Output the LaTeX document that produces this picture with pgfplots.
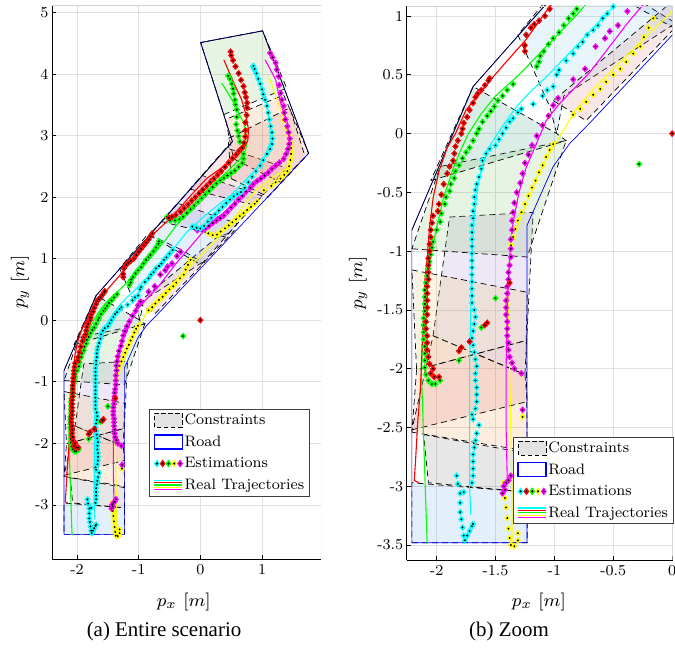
\documentclass[border=0pt]{standalone}
\usepackage{fontspec}
\newfontfamily\capfont{Liberation Serif}
\usepackage{graphicx}
\usepackage{pgfplots}
\usepackage{pgfplotstable}
\pgfplotsset{compat=1.18}

\definecolor{mred}{RGB}{255,0,0}
\definecolor{mgreen}{RGB}{0,255,0}
\definecolor{mcyan}{RGB}{0,255,255}
\definecolor{mmag}{RGB}{255,0,255}
\definecolor{myel}{RGB}{255,255,0}
\definecolor{mblue}{RGB}{0,0,255}

\definecolor{cblue}{RGB}{90,160,225}
\definecolor{clblue}{RGB}{120,200,240}
\definecolor{cgray}{RGB}{110,110,110}
\definecolor{corange}{RGB}{235,150,60}
\definecolor{cyel}{RGB}{235,190,80}
\definecolor{cpink}{RGB}{215,110,110}
\definecolor{cviolet}{RGB}{150,110,200}
\definecolor{cgreen}{RGB}{120,190,90}
\definecolor{cteal}{RGB}{40,150,110}

\pgfplotsset{
  cst/.style={draw=black, dash pattern=on 6bp off 4bp, line width=0.7bp, fill=#1, fill opacity=0.17, forget plot},
  real/.style={draw=#1, line width=1.1bp, no marks, forget plot},
  est/.style={only marks, mark=diamond*, mark size=3.2bp, mark options={solid, xscale=1.2, draw=#1, fill=#1, line width=0.3bp}, forget plot},
  dot/.style={only marks, mark=*, mark size=0.75bp, mark options={solid, draw=black, fill=black}, forget plot},
}

% ---------------- real trajectories ----------------
\pgfplotstableread{
x y
-2.15 -2.97
-2.19 -2.95
-2.18 -2.80
-2.16 -2.45
-2.14 -2.20
-2.13 -2.00
-2.12 -1.75
-2.11 -1.50
-2.10 -1.25
-2.08 -1.05
-2.06 -0.80
-2.03 -0.55
-1.98 -0.32
-1.91 -0.12
-1.84 0.00
-1.75 0.20
-1.62 0.36
-1.53 0.47
-1.40 0.62
-1.24 0.80
-1.04 1.08
-0.78 1.38
-0.46 1.68
-0.16 2.02
0.10 2.30
0.35 2.48
0.54 2.62
0.70 2.78
0.77 2.92
0.78 3.10
0.73 3.37
0.67 3.58
0.59 3.75
0.48 4.00
0.38 4.23
}\tabRR
\pgfplotstableread{
x y
-2.08 -3.49
-2.09 -3.20
-2.10 -2.90
-2.11 -2.60
-2.12 -2.30
-2.13 -2.00
-2.12 -1.75
-2.11 -1.50
-2.08 -1.25
-2.04 -0.99
-2.00 -0.80
-1.94 -0.54
-1.86 -0.30
-1.80 -0.15
-1.73 0.00
-1.62 0.17
-1.50 0.32
-1.29 0.51
-1.05 0.76
-0.80 1.02
-0.60 1.26
-0.38 1.55
0.05 2.03
0.45 2.43
0.65 2.62
0.74 2.78
0.76 2.94
0.70 3.21
0.54 3.53
0.35 3.85
}\tabGR
\pgfplotstableread{
x y
-1.71 -3.24
-1.72 -3.00
-1.72 -2.50
-1.72 -2.00
-1.71 -1.50
-1.70 -1.02
-1.68 -0.70
-1.65 -0.45
-1.61 -0.25
-1.54 -0.09
-1.45 0.05
-1.32 0.23
-1.20 0.36
-1.07 0.48
-0.79 0.77
-0.50 1.08
-0.22 1.43
0.10 1.72
0.49 2.03
0.70 2.24
0.90 2.45
1.05 2.67
1.13 2.89
1.13 3.15
1.08 3.48
0.97 3.80
0.88 4.00
0.81 4.13
}\tabCR
\pgfplotstableread{
x y
-1.40 -2.95
-1.41 -2.50
-1.41 -2.00
-1.40 -1.50
-1.38 -1.05
-1.35 -0.75
-1.30 -0.50
-1.24 -0.29
-1.15 -0.08
-1.07 0.11
-0.96 0.25
-0.70 0.52
-0.37 0.95
0.10 1.50
0.70 2.03
0.92 2.26
1.30 2.56
1.43 2.73
1.46 2.94
1.41 3.21
1.30 3.53
1.22 3.91
1.05 4.23
}\tabMR
\pgfplotstableread{
x y
-1.36 -3.49
-1.36 -3.00
-1.37 -2.50
-1.38 -2.00
-1.39 -1.50
-1.38 -1.05
-1.33 -0.85
-1.29 -0.72
-1.22 -0.55
-1.16 -0.40
-1.07 -0.22
-0.94 0.00
-0.82 0.20
-0.65 0.40
-0.37 0.68
-0.06 0.98
0.30 1.35
0.92 2.13
1.30 2.40
1.46 2.51
1.51 2.67
1.46 2.89
1.38 3.21
1.24 3.59
1.11 3.96
}\tabYR

% ---------------- estimations ----------------
\pgfplotstableread{
x y
-1.98 -2.07
-2.02 -2.07
-2.05 -2.04
-2.03 -2.00
-2.06 -1.96
-2.07 -1.90
-2.08 -1.84
-2.08 -1.78
-2.08 -1.72
-2.09 -1.66
-2.09 -1.60
-2.08 -1.54
-2.08 -1.48
-2.08 -1.42
-2.08 -1.36
-2.08 -1.30
-2.07 -1.24
-2.07 -1.18
-2.07 -1.12
-2.07 -1.06
-2.06 -1.00
-2.06 -0.94
-2.05 -0.88
-2.05 -0.82
-2.04 -0.76
-2.03 -0.70
-1.99 -0.66
-1.98 -0.60
-1.96 -0.52
-1.94 -0.43
-1.91 -0.34
-1.89 -0.28
-1.86 -0.23
-1.85 -0.17
-1.84 -0.11
-1.82 -0.06
-1.79 0.00
-1.78 0.04
-1.77 0.09
-1.74 0.14
-1.72 0.20
-1.69 0.26
-1.67 0.31
-1.65 0.34
-1.62 0.37
-1.59 0.41
-1.56 0.45
-1.55 0.47
-1.25 0.70
-1.25 0.75
-1.24 0.84
-1.20 0.90
-1.17 0.93
-1.13 0.96
-1.08 1.00
-1.04 1.06
-1.00 1.11
-0.96 1.16
-0.92 1.21
-0.88 1.26
-0.84 1.31
-0.81 1.36
-0.78 1.41
-0.51 1.66
-0.46 1.68
-0.40 1.71
-0.32 1.76
-0.26 1.82
-0.20 1.88
-0.14 1.94
-0.08 2.00
-0.02 2.06
0.04 2.12
0.10 2.18
0.16 2.24
0.22 2.30
0.28 2.36
0.34 2.42
0.40 2.49
0.46 2.56
0.52 2.63
0.58 2.69
0.63 2.75
0.68 2.80
0.71 2.88
0.73 2.98
0.73 3.08
0.73 3.21
0.75 3.33
0.76 3.45
0.76 3.53
0.74 3.62
0.72 3.70
0.70 3.80
0.66 3.90
0.62 4.01
0.57 4.12
0.53 4.22
0.50 4.30
0.49 4.36
-1.81 -1.85
-1.79 -1.82
-1.72 -1.77
-1.59 -1.63
-1.57 -1.61
-1.38 -1.27
0.00 0.00
}\tabRE
\pgfplotstableread{
x y
-1.97 -2.10
-2.01 -2.13
-2.04 -2.13
-2.07 -2.10
-2.09 -2.05
-2.10 -1.99
-2.10 -1.93
-2.10 -1.87
-2.10 -1.81
-2.11 -1.75
-2.11 -1.69
-2.11 -1.63
-2.11 -1.57
-2.10 -1.51
-2.10 -1.45
-2.10 -1.39
-2.10 -1.33
-2.09 -1.27
-2.08 -1.21
-2.07 -1.15
-2.06 -1.09
-2.05 -1.03
-2.04 -0.97
-2.03 -0.92
-2.00 -0.82
-1.97 -0.75
-1.96 -0.68
-1.93 -0.60
-1.92 -0.54
-1.89 -0.49
-1.88 -0.43
-1.85 -0.38
-1.84 -0.32
-1.81 -0.27
-1.78 -0.21
-1.75 -0.16
-1.72 -0.12
-1.69 -0.06
-1.66 0.00
-1.64 0.04
-1.61 0.10
-1.57 0.15
-1.54 0.19
-1.51 0.23
-1.48 0.28
-1.44 0.32
-1.40 0.37
-1.35 0.42
-1.15 0.57
-1.13 0.61
-1.12 0.66
-1.09 0.70
-1.05 0.76
-1.01 0.81
-0.96 0.86
-0.92 0.92
-0.88 0.98
-0.84 1.02
-0.81 1.06
-0.76 1.12
-0.72 1.18
-0.68 1.24
-0.67 1.28
-0.54 1.68
-0.49 1.62
-0.41 1.62
-0.34 1.64
-0.28 1.68
-0.22 1.74
-0.16 1.80
-0.10 1.86
-0.04 1.92
0.02 1.98
0.08 2.04
0.14 2.10
0.20 2.16
0.26 2.22
0.32 2.27
0.38 2.31
0.44 2.35
0.50 2.39
0.56 2.43
0.62 2.49
0.68 2.55
0.70 2.62
0.70 2.70
0.67 2.79
0.64 2.90
0.62 2.99
0.60 3.08
0.58 3.18
0.59 3.30
0.59 3.42
0.57 3.50
0.56 3.58
0.54 3.68
0.53 3.76
0.51 3.84
0.48 3.92
0.45 3.97
-0.28 -0.26
-1.81 -1.93
-1.62 -1.65
-1.50 -1.40
}\tabGE
\pgfplotstableread{
x y
-1.83 -2.91
-1.82 -2.98
-1.80 -3.06
-1.77 -3.05
-1.80 -3.14
-1.80 -3.22
-1.79 -3.28
-1.78 -3.35
-1.77 -3.42
-1.76 -3.46
-1.74 -3.42
-1.72 -3.38
-1.70 -3.34
-1.69 -3.32
-1.70 -2.97
-1.69 -2.91
-1.69 -2.85
-1.69 -2.79
-1.69 -2.73
-1.68 -2.67
-1.67 -2.61
-1.66 -2.55
-1.64 -2.48
-1.69 -2.43
-1.70 -2.39
-1.67 -2.34
-1.66 -2.28
-1.66 -2.22
-1.66 -2.16
-1.67 -2.10
-1.67 -2.04
-1.66 -1.98
-1.67 -1.92
-1.68 -1.86
-1.69 -1.80
-1.70 -1.74
-1.69 -1.68
-1.68 -1.62
-1.67 -1.56
-1.68 -1.50
-1.70 -1.44
-1.70 -1.38
-1.70 -1.32
-1.70 -1.26
-1.70 -1.20
-1.70 -1.14
-1.70 -1.08
-1.70 -1.02
-1.70 -0.96
-1.70 -0.90
-1.70 -0.84
-1.70 -0.78
-1.69 -0.72
-1.69 -0.66
-1.68 -0.60
-1.68 -0.54
-1.67 -0.48
-1.66 -0.43
-1.64 -0.37
-1.62 -0.30
-1.61 -0.23
-1.58 -0.17
-1.55 -0.13
-1.50 -0.10
-1.47 -0.05
-1.44 0.00
-1.41 0.05
-1.38 0.10
-1.35 0.13
-1.31 0.18
-1.28 0.21
-1.18 0.25
-1.10 0.32
-1.06 0.37
-1.01 0.40
-0.98 0.50
-0.96 0.54
-0.90 0.62
-0.84 0.68
-0.80 0.74
-0.76 0.78
-0.72 0.84
-0.67 0.88
-0.63 0.92
-0.59 0.98
-0.55 1.02
-0.50 1.08
-0.45 1.14
-0.13 1.52
-0.06 1.50
0.00 1.49
0.06 1.53
0.12 1.60
0.18 1.66
0.24 1.72
0.30 1.78
0.36 1.84
0.42 1.90
0.48 1.96
0.54 2.01
0.60 2.05
0.66 2.08
0.72 2.15
0.78 2.24
0.84 2.33
0.90 2.42
0.97 2.51
1.02 2.60
1.08 2.70
1.13 2.78
1.16 2.86
1.17 2.95
1.16 3.05
1.14 3.15
1.12 3.26
1.10 3.37
1.08 3.48
1.05 3.58
1.02 3.67
1.00 3.75
0.97 3.84
0.94 3.92
0.91 4.01
0.88 4.08
0.86 4.13
}\tabCE
\pgfplotstableread{
x y
-1.44 -3.06
-1.43 -3.00
-1.42 -3.03
-1.41 -2.97
-1.39 -2.95
-1.37 -2.91
-1.28 -2.04
-1.27 -2.35
-1.34 -2.00
-1.36 -1.95
-1.38 -1.90
-1.39 -1.84
-1.39 -1.78
-1.40 -1.72
-1.40 -1.66
-1.40 -1.60
-1.41 -1.54
-1.41 -1.48
-1.41 -1.42
-1.40 -1.36
-1.40 -1.30
-1.39 -1.24
-1.39 -1.18
-1.38 -1.12
-1.37 -1.05
-1.37 -0.98
-1.37 -0.90
-1.36 -0.82
-1.36 -0.74
-1.35 -0.67
-1.34 -0.59
-1.32 -0.50
-1.29 -0.42
-1.27 -0.34
-1.25 -0.25
-1.22 -0.18
-1.19 -0.10
-1.15 -0.02
-1.10 0.07
-1.05 0.15
-1.01 0.24
-0.97 0.30
-0.84 0.46
-0.74 0.55
-0.65 0.74
-0.57 0.81
-0.53 0.87
-0.46 0.92
-0.38 1.04
-0.32 1.11
-0.05 1.46
0.02 1.48
0.08 1.49
0.14 1.53
0.20 1.58
0.26 1.62
0.32 1.66
0.38 1.70
0.44 1.76
0.50 1.83
0.56 1.89
0.62 1.96
0.68 2.02
0.74 2.09
0.81 2.15
0.86 2.21
0.92 2.26
0.98 2.30
1.04 2.35
1.10 2.40
1.16 2.46
1.22 2.51
1.28 2.56
1.35 2.62
1.39 2.70
1.42 2.78
1.44 2.86
1.45 2.95
1.43 3.05
1.41 3.15
1.38 3.26
1.36 3.37
1.35 3.48
1.32 3.58
1.30 3.69
1.28 3.82
1.27 3.96
1.24 4.07
1.22 4.18
1.17 4.27
1.13 4.34
}\tabME
\pgfplotstableread{
x y
-1.43 -2.97
-1.42 -3.10
-1.41 -3.18
-1.40 -3.27
-1.39 -3.36
-1.38 -3.44
-1.37 -3.50
-1.34 -3.51
-1.31 -3.46
-1.31 -3.40
-1.27 -2.41
-1.37 -0.95
-1.35 -0.88
-1.33 -0.81
-1.31 -0.74
-1.28 -0.67
-1.25 -0.60
-1.22 -0.53
-1.19 -0.46
-1.16 -0.40
-1.13 -0.33
-1.10 -0.27
-1.07 -0.20
-1.04 -0.14
-1.01 -0.09
-0.84 0.16
-0.78 0.21
-0.73 0.27
-0.67 0.33
-0.61 0.38
-0.56 0.44
-0.50 0.50
-0.44 0.55
-0.39 0.61
-0.33 0.68
-0.27 0.74
-0.24 0.82
-0.20 0.90
-0.16 0.98
0.13 1.41
0.20 1.38
0.27 1.39
0.33 1.44
0.40 1.49
0.46 1.54
0.52 1.59
0.58 1.64
0.64 1.69
0.70 1.74
0.76 1.79
0.82 1.84
0.88 1.89
0.92 1.93
1.03 2.11
1.15 2.18
1.22 2.24
1.30 2.30
1.36 2.36
1.41 2.42
1.44 2.50
1.46 2.60
1.47 2.70
1.47 2.80
1.47 2.88
1.44 3.00
1.40 3.12
1.35 3.25
}\tabYE

\newcommand{\plotcontent}{%
  % constraints
  \addplot[cst=cblue]   coordinates {(-2.21,-3.48)(-1.23,-3.48)(-1.23,-3.05)(-2.21,-2.97)(-2.21,-3.48)};
  \addplot[cst=cgray]   coordinates {(-2.11,-2.56)(-1.23,-2.72)(-1.23,-3.05)(-2.07,-2.97)(-2.11,-2.56)};
  \addplot[cst=corange] coordinates {(-2.21,-2.54)(-1.23,-2.70)(-1.24,-1.76)(-2.17,-2.01)(-2.21,-2.54)};
  \addplot[cst=cpink]   coordinates {(-2.21,-2.52)(-1.23,-2.28)(-1.25,-2.05)(-2.03,-1.72)(-2.21,-2.52)};
  \addplot[cst=cviolet] coordinates {(-2.03,-1.72)(-1.25,-2.05)(-1.18,-0.67)(-1.89,-0.71)(-2.03,-1.72)};
  \addplot[cst=cyel]    coordinates {(-2.21,-1.16)(-1.23,-1.35)(-1.24,-1.76)(-2.17,-2.01)(-2.21,-1.16)};
  \addplot[cst=cgreen]  coordinates {(-2.21,-0.98)(-1.23,-1.05)(-0.90,-0.06)(-1.97,-0.28)(-2.21,-0.98)};
  \addplot[cst=cteal]   coordinates {(-2.05,-0.40)(-0.90,-0.06)(-0.98,0.00)(-1.69,0.40)(-2.05,-0.40)};
  \addplot[cst=clblue]  coordinates {(-1.31,0.84)(-1.04,0.23)(-0.98,0.00)(-0.92,0.32)(0.03,0.94)(-0.28,1.13)(-0.85,1.40)(-1.31,0.84)};
  \addplot[cst=cpink]   coordinates {(-1.01,0.28)(-0.73,0.11)(0.55,1.45)(0.25,1.33)(-1.01,0.28)};
  \addplot[cst=cblue]   coordinates {(-0.83,1.38)(0.01,0.90)(0.60,1.57)(-0.37,1.90)(-0.83,1.38)};
  \addplot[cst=cviolet] coordinates {(-0.63,1.60)(0.41,1.35)(1.00,2.02)(0.03,2.35)(-0.63,1.60)};
  \addplot[cst=cpink]   coordinates {(-0.17,2.13)(0.87,1.87)(1.40,2.47)(0.42,2.80)(-0.17,2.13)};
  \addplot[cst=corange] coordinates {(0.54,2.62)(1.30,2.24)(1.755,2.71)(1.55,3.20)(1.35,3.66)(0.41,3.26)(0.47,2.95)(0.54,2.62)};
  \addplot[cst=cpink]   coordinates {(0.50,2.30)(1.10,2.00)(1.70,2.65)(1.45,3.45)(0.45,2.95)(0.50,2.30)};
  \addplot[cst=cgreen]  coordinates {(0.38,3.34)(1.40,3.77)(1.01,4.70)(0.005,4.51)(0.38,3.34)};
  % road
  \addplot[draw=mblue, line width=0.7bp, forget plot] coordinates {(-2.21,-3.48)(-1.232,-3.48)(-1.232,-0.78)(-1.01,-0.28)(-0.87,-0.085)(-0.69,0.10)(1.755,2.71)(1.01,4.70)(0.005,4.51)(0.43,3.18)(0.52,2.90)(-1.69,0.40)(-2.21,-0.82)(-2.21,-3.48)};
  \addplot[draw=black, line width=0.6bp, forget plot] coordinates {(-2.21,-0.82)(-1.69,0.40)(0.52,2.90)(0.43,3.18)(0.005,4.51)(1.01,4.70)(1.755,2.71)};
  % real trajectories
  \addplot[real=myel]   table {\tabYR};
  \addplot[real=mmag]   table {\tabMR};
  \addplot[real=mcyan]  table {\tabCR};
  \addplot[real=mgreen] table {\tabGR};
  \addplot[real=mred]   table {\tabRR};
  % estimations
  \addplot[est=myel]   table {\tabYE}; \addplot[dot] table {\tabYE};
  \addplot[est=mmag]   table {\tabME}; \addplot[dot] table {\tabME};
  \addplot[est=mcyan]  table {\tabCE}; \addplot[dot] table {\tabCE};
  \addplot[est=mgreen] table {\tabGE}; \addplot[dot] table {\tabGE};
  \addplot[est=mred]   table {\tabRE}; \addplot[dot] table {\tabRE};
  \draw[black!18, line width=0.6bp] (rel axis cs:0,1) -- (rel axis cs:1,1) -- (rel axis cs:1,0);
}

\newcommand{\legdiam}[2]{\fill[#1, shift={(#2bp,0bp)}] (0bp,-3.4bp) -- (2.5bp,0bp) -- (0bp,3.4bp) -- (-2.5bp,0bp) -- cycle; \fill[black] (#2bp,0bp) circle (0.7bp);}
\newcommand{\lt}[1]{\scalebox{1.9}{\fontsize{8}{9}\selectfont #1}}
\newcommand{\tk}[1]{\scalebox{1.9}{\fontsize{8}{9}\selectfont #1}}
\newcommand{\lb}[1]{\scalebox{2.25}{\fontsize{8}{9}\selectfont #1}}

\newcommand{\legendstuff}{%
  \addlegendimage{legend image code/.code={\draw[black, dash pattern=on 4.5bp off 2.5bp, line width=0.9bp, fill=gray!22] (0bp,-7bp) rectangle (28bp,7bp);}}
  \addlegendentry{\lt{Constraints}}
  \addlegendimage{legend image code/.code={\draw[mblue, line width=1.3bp, fill=white] (0bp,-7bp) rectangle (28bp,7bp);}}
  \addlegendentry{\lt{Road}}
  \addlegendimage{legend image code/.code={\legdiam{mcyan}{2.5}\legdiam{mred}{8.3}\legdiam{mgreen}{14.1}\legdiam{myel}{19.9}\legdiam{mmag}{25.7}}}
  \addlegendentry{\lt{Estimations}}
  \addlegendimage{legend image code/.code={%
      \draw[mcyan, line width=1.2bp] (0bp,4.8bp) -- (28bp,4.8bp);
      \draw[mred, line width=1.2bp] (0bp,2.4bp) -- (28bp,2.4bp);
      \draw[mgreen, line width=1.2bp] (0bp,0bp) -- (28bp,0bp);
      \draw[myel, line width=1.2bp] (0bp,-2.4bp) -- (28bp,-2.4bp);
      \draw[mmag, line width=1.2bp] (0bp,-4.8bp) -- (28bp,-4.8bp);}}
  \addlegendentry{\lt{Real Trajectories}}
}

\pgfplotsset{
  myaxis/.style={
    scale only axis,
    axis lines*=left,
    axis line style={black, line width=0.7bp},
    tick style={black, line width=0.6bp},
    major tick length=4bp,
    grid=major,
    grid style={black!12, line width=0.5bp},
    /pgf/number format/assume math mode=true,
    xticklabel={\tk{\pgfmathprintnumber{\tick}}},
    yticklabel={\tk{\pgfmathprintnumber{\tick}}},
    xticklabel style={yshift=-2bp},
    xlabel={\lb{$p_x\ [m]$}},
    ylabel={\lb{$p_y\ [m]$}},
    legend cell align=left,
    legend style={draw=black!75, line width=0.7bp, fill=white,
      inner xsep=4bp, inner ysep=3.5bp, row sep=6.5bp, nodes={inner sep=1.5bp},
      anchor=north west},
  }
}

\begin{document}
\begin{tikzpicture}
\useasboundingbox (0bp,0bp) rectangle (675bp,648bp);
\begin{axis}[myaxis,
  at={(52bp,89bp)}, anchor=south west,
  width=269bp, height=554bp,
  xmin=-2.405, xmax=1.956, ymin=-3.88, ymax=5.12,
  xtick={-2,-1,0,1}, ytick={-3,-2,-1,0,1,2,3,4,5},
  xlabel style={at={(axis description cs:0.49,-0.0776)}, anchor=center},
  ylabel style={at={(axis description cs:-0.119,0.5)}, anchor=center},
  legend style={at={(0.362,0.271)}},
]
\legendstuff
\plotcontent
\end{axis}
\begin{axis}[myaxis,
  at={(406.7bp,88bp)}, anchor=south west,
  width=266bp, height=554bp,
  xmin=-2.254, xmax=0.005, ymin=-3.627, ymax=1.085,
  xtick={-2,-1.5,-1,-0.5,0}, ytick={-3.5,-3,-2.5,-2,-1.5,-1,-0.5,0,0.5,1},
  xlabel style={at={(axis description cs:0.497,-0.075)}, anchor=center},
  ylabel style={at={(axis description cs:-0.183,0.5)}, anchor=center},
  legend style={at={(0.40,0.2226)}},
]
\legendstuff
\plotcontent
\end{axis}
\node[font=\capfont\fontsize{21}{23}\selectfont] at (164bp,17bp) {(a) Entire scenario};
\node[font=\capfont\fontsize{21}{23}\selectfont] at (509bp,17bp) {(b) Zoom};
\end{tikzpicture}
\end{document}
